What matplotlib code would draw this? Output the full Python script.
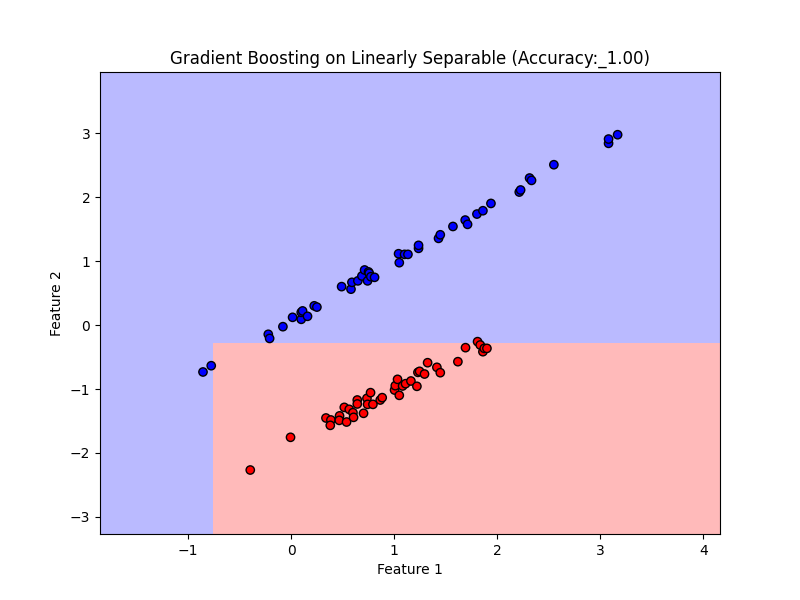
import matplotlib
matplotlib.use("Agg")
import matplotlib.pyplot as plt
import numpy as np
from matplotlib.colors import ListedColormap

# class 1 (blue) points
blue_x = [-0.857, -0.777, -0.223, -0.21, -0.081, 0.013, 0.097, 0.097, 0.11, 0.158,
          0.223, 0.249, 0.489, 0.58, 0.589, 0.647, 0.686, 0.712, 0.741, 0.75,
          0.757, 0.773, 0.809, 1.049, 1.042, 1.10, 1.133, 1.236, 1.236, 1.43,
          1.447, 1.57, 1.689, 1.712, 1.803, 1.861, 1.939, 2.214, 2.227, 2.314,
          2.333, 2.55, 3.081, 3.081, 3.169]
blue_y = [-0.734, -0.636, -0.145, -0.21, -0.026, 0.12, 0.089, 0.198, 0.22, 0.136,
          0.30, 0.28, 0.60, 0.56, 0.667, 0.69, 0.766, 0.86, 0.69, 0.83,
          0.81, 0.755, 0.745, 0.974, 1.114, 1.104, 1.104, 1.198, 1.245, 1.354,
          1.41, 1.54, 1.64, 1.573, 1.734, 1.786, 1.90, 2.078, 2.11, 2.297,
          2.26, 2.505, 2.839, 2.906, 2.974]

# class 0 (red) points
red_x = [-0.398, -0.007, 0.337, 0.385, 0.379, 0.469, 0.466, 0.537, 0.515, 0.563,
         0.599, 0.605, 0.641, 0.641, 0.702, 0.735, 0.741, 0.77, 0.793, 0.864,
         0.883, 1.003, 1.01, 1.032, 1.049, 1.081, 1.11, 1.162, 1.22, 1.23,
         1.246, 1.294, 1.324, 1.414, 1.447, 1.618, 1.692, 1.809, 1.835, 1.861,
         1.874, 1.90]
red_y = [-2.266, -1.755, -1.453, -1.484, -1.568, -1.42, -1.49, -1.516, -1.287, -1.318,
         -1.37, -1.443, -1.172, -1.234, -1.38, -1.146, -1.24, -1.057, -1.24, -1.172,
         -1.135, -1.016, -0.948, -0.849, -1.099, -0.953, -0.917, -0.875, -0.958, -0.74,
         -0.724, -0.766, -0.589, -0.661, -0.745, -0.573, -0.354, -0.26, -0.312, -0.417,
         -0.365, -0.365]

# learned split thresholds of the model
split_x = -0.77
split_y = -0.28

X = np.array(list(zip(blue_x + red_x, blue_y + red_y)))
y = np.array([1] * len(blue_x) + [0] * len(red_x))

x_min, x_max = X[:, 0].min() - 1, X[:, 0].max() + 1
y_min, y_max = X[:, 1].min() - 1, X[:, 1].max() + 1
xx, yy = np.meshgrid(np.arange(x_min, x_max, 0.02), np.arange(y_min, y_max, 0.02))
Z = np.where((xx > split_x) & (yy < split_y), 0, 1)

fig = plt.figure(figsize=(8, 6), dpi=100)
plt.contourf(xx, yy, Z, levels=[-0.5, 0.5, 1.5], cmap=ListedColormap(["#ffbaba", "#babaff"]))
plt.scatter(X[:, 0], X[:, 1], c=y, cmap=ListedColormap(["#ff0000", "#0000ff"]), edgecolors="k")

plt.xlim(xx.min(), xx.max())
plt.ylim(yy.min(), yy.max())
plt.title("Gradient Boosting on Linearly Separable (Accuracy:_1.00)")
plt.xlabel("Feature 1")
plt.ylabel("Feature 2")

plt.savefig("out.png")
